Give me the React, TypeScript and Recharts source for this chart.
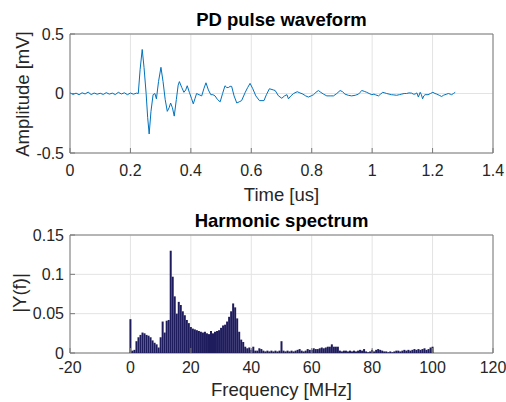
import React from 'react'
import {
  LineChart,
  Line,
  BarChart,
  Bar,
  XAxis,
  YAxis,
  CartesianGrid,
  ReferenceArea,
} from 'recharts'

// PD pulse waveform: sample times [us] and amplitudes [mV]
const pulseTime = [
  0, 0.01, 0.02, 0.03, 0.04, 0.05, 0.06, 0.07, 0.08, 0.09, 0.1, 0.11, 0.12, 0.13, 0.14, 0.15, 0.16,
  0.17, 0.18, 0.19, 0.2, 0.21, 0.22, 0.226, 0.232, 0.239, 0.245, 0.252, 0.257, 0.262, 0.268, 0.275,
  0.281, 0.286, 0.293, 0.301, 0.308, 0.315, 0.322, 0.328, 0.333, 0.339, 0.345, 0.352, 0.358, 0.362,
  0.37, 0.377, 0.383, 0.388, 0.395, 0.402, 0.408, 0.414, 0.419, 0.427, 0.436, 0.443, 0.45, 0.458,
  0.466, 0.473, 0.48, 0.488, 0.497, 0.505, 0.513, 0.519, 0.524, 0.53, 0.535, 0.543, 0.552, 0.56,
  0.568, 0.58, 0.588, 0.596, 0.605, 0.615, 0.627, 0.642, 0.65, 0.66, 0.673, 0.679, 0.69, 0.701,
  0.71, 0.718, 0.723, 0.731, 0.74, 0.752, 0.761, 0.771, 0.78, 0.789, 0.798, 0.806, 0.814, 0.822,
  0.83, 0.839, 0.85, 0.861, 0.872, 0.883, 0.894, 0.902, 0.91, 0.921, 0.932, 0.944, 0.955, 0.96,
  0.966, 0.974, 0.982, 0.99, 0.999, 1.006, 1.012, 1.021, 1.028, 1.035, 1.042, 1.048, 1.056, 1.064,
  1.072, 1.081, 1.09, 1.098, 1.106, 1.114, 1.122, 1.131, 1.136, 1.142, 1.148, 1.153, 1.159, 1.163,
  1.167, 1.171, 1.175, 1.185, 1.193, 1.201, 1.208, 1.214, 1.222, 1.23, 1.236, 1.241, 1.247, 1.252,
  1.258, 1.263, 1.269, 1.275,
]
const pulseAmp = [
  0.005, -0.008, 0.003, -0.01, 0.006, -0.004, 0.012, -0.009, 0.004, -0.006, 0.002, -0.008, 0.007,
  -0.005, 0.003, -0.009, 0.01, -0.004, 0.006, -0.01, 0.004, -0.006, 0.003, 0.0, 0.2, 0.37, 0.22,
  0.0, -0.2, -0.34, -0.15, -0.01, 0.0, -0.045, 0.1, 0.22, 0.1, -0.05, -0.15, -0.12, -0.08, -0.12,
  -0.19, -0.05, 0.07, 0.1, 0.05, 0.01, 0.03, 0.065, 0.01, -0.04, -0.087, -0.04, 0.0, -0.01, -0.02,
  0.04, 0.09, 0.03, -0.01, -0.01, -0.02, -0.05, -0.07, 0.0, 0.065, 0.05, 0.05, 0.06, 0.06, -0.02,
  -0.08, -0.07, -0.06, 0.01, 0.05, 0.085, 0.04, -0.02, -0.06, -0.06, -0.01, 0.04, 0.03, 0.025,
  -0.02, -0.04, -0.02, -0.01, -0.045, -0.02, 0.0, 0.015, 0.005, -0.005, -0.02, -0.03, -0.02, -0.01,
  0.01, 0.025, 0.01, -0.005, -0.02, -0.02, -0.02, 0.0, 0.025, 0.015, -0.005, -0.015, -0.02, -0.015,
  -0.005, 0.01, 0.025, 0.018, 0.01, 0.0, -0.01, -0.005, -0.012, -0.02, -0.005, 0.01, 0.005, 0.0,
  -0.005, -0.01, -0.012, -0.015, -0.01, -0.005, 0.0, 0.0, 0.005, 0.003, -0.005, -0.005, 0.005,
  -0.03, 0.01, -0.01, -0.045, -0.02, -0.01, -0.01, 0.0, 0.01, 0.0, -0.005, -0.015, -0.025, -0.015,
  -0.01, -0.005, 0.0, -0.005, -0.01, 0.0, 0.01,
]

// Harmonic spectrum: one bar per FFT bin, 0..100 MHz
const binStep = 100 / 150
const spectrum = [
  0.043, 0.003, 0.004, 0.015, 0.02, 0.023, 0.026, 0.025, 0.023, 0.022, 0.02, 0.016, 0.013, 0.011,
  0.007, 0.02, 0.04, 0.026, 0.041, 0.042, 0.13, 0.097, 0.072, 0.05, 0.065, 0.061, 0.053, 0.048,
  0.042, 0.038, 0.033, 0.031, 0.03, 0.029, 0.028, 0.027, 0.026, 0.027, 0.025, 0.024, 0.028, 0.025,
  0.027, 0.028, 0.029, 0.032, 0.035, 0.036, 0.04, 0.046, 0.053, 0.063, 0.058, 0.044, 0.027, 0.017,
  0.014, 0.008, 0.006, 0.007, 0.004, 0.008, 0.003, 0.003, 0.006, 0.005, 0.003, 0.002, 0.003, 0.002,
  0.003, 0.002, 0.003, 0.002, 0.003, 0.015, 0.003, 0.002, 0.003, 0.002, 0.003, 0.002, 0.003, 0.004,
  0.005, 0.003, 0.002, 0.003, 0.005, 0.004, 0.004, 0.006, 0.005, 0.005, 0.006, 0.007, 0.006, 0.007,
  0.008, 0.008, 0.011, 0.008, 0.008, 0.008, 0.003, 0.002, 0.003, 0.003, 0.002, 0.003, 0.002, 0.003,
  0.002, 0.003, 0.004, 0.003, 0.005, 0.002, 0.001, 0.002, 0.004, 0.002, 0.004, 0.005, 0.004, 0.003,
  0.002, 0.002, 0.001, 0.002, 0.001, 0.002, 0.003, 0.003, 0.002, 0.003, 0.004, 0.003, 0.004, 0.003,
  0.004, 0.005, 0.004, 0.005, 0.004, 0.005, 0.006, 0.004, 0.005, 0.007, 0.008,
]

const timeTicks = [0, 0.2, 0.4, 0.6, 0.8, 1, 1.2, 1.4]
const ampTicks = [-0.5, 0, 0.5]
const freqTicks = [-20, 0, 20, 40, 60, 80, 100, 120]
const magTicks = [0, 0.05, 0.1, 0.15]

const pulseData = pulseTime.map((t, i) => ({ t, v: pulseAmp[i] }))
const spectrumData = spectrum.map((y, i) => ({ f: i * binStep, y }))

const FONT = '"Liberation Sans", Arial, Helvetica, sans-serif'
const tickStyle = { fontSize: 16, fill: '#262626', fontFamily: FONT }
const boxColor = '#7a7a7a'
const gridColor = '#e3e3e3'

const fmt = (v: number) => String(Number(v.toFixed(2)))

const titleStyle: React.CSSProperties = {
  position: 'absolute',
  left: 70,
  width: 423,
  textAlign: 'center',
  fontFamily: FONT,
  fontWeight: 'bold',
  fontSize: 18.5,
  lineHeight: '20px',
  color: '#000',
}
const xLabelStyle: React.CSSProperties = {
  position: 'absolute',
  left: 70,
  width: 423,
  textAlign: 'center',
  fontFamily: FONT,
  fontSize: 18.5,
  lineHeight: '14px',
  color: '#262626',
}
const yLabelStyle: React.CSSProperties = {
  position: 'absolute',
  transform: 'translate(-50%, -50%) rotate(-90deg)',
  whiteSpace: 'nowrap',
  fontFamily: FONT,
  fontSize: 18.5,
  lineHeight: '20px',
  color: '#262626',
}

export default function App() {
  return (
    <div
      style={{
        position: 'absolute',
        left: 0,
        top: 0,
        width: 506,
        height: 402,
        background: '#fff',
        overflow: 'hidden',
      }}
    >
      <div style={{ ...titleStyle, top: 10 }}>PD pulse waveform</div>
      <div style={{ position: 'absolute', left: 0, top: 0 }}>
        <LineChart width={506} height={200} data={pulseData} margin={{ top: 34, right: 13, bottom: 0, left: 0 }}>
          <CartesianGrid stroke={gridColor} />
          <XAxis
            dataKey="t"
            type="number"
            domain={[0, 1.4]}
            ticks={timeTicks}
            tickFormatter={fmt}
            tick={tickStyle}
            height={47}
            axisLine={false}
            tickLine={{ stroke: boxColor }}
            tickSize={-5}
            tickMargin={17}
          />
          <YAxis
            type="number"
            domain={[-0.5, 0.5]}
            ticks={ampTicks}
            tickFormatter={fmt}
            tick={tickStyle}
            width={70}
            axisLine={false}
            tickLine={{ stroke: boxColor }}
            tickSize={-5}
            tickMargin={11}
          />
          <ReferenceArea x1={0} x2={1.4} y1={-0.5} y2={0.5} fill="none" stroke={boxColor} ifOverflow="visible" />
          <Line
            type="linear"
            dataKey="v"
            stroke="#0072BD"
            strokeWidth={1}
            dot={false}
            isAnimationActive={false}
          />
        </LineChart>
      </div>
      <div style={{ ...xLabelStyle, top: 188 }}>Time [us]</div>
      <div style={{ ...yLabelStyle, left: 22.5, top: 93.5 }}>Amplitude [mV]</div>

      <div style={{ ...titleStyle, top: 211 }}>Harmonic spectrum</div>
      <div style={{ position: 'absolute', left: 0, top: 200 }}>
        <BarChart width={506} height={200} data={spectrumData} margin={{ top: 35, right: 13, bottom: 0, left: 0 }}>
          <CartesianGrid stroke={gridColor} />
          <XAxis
            dataKey="f"
            type="number"
            domain={[-20, 120]}
            ticks={freqTicks}
            tick={tickStyle}
            height={47}
            axisLine={false}
            tickLine={{ stroke: boxColor }}
            tickSize={-5}
            tickMargin={14}
          />
          <YAxis
            type="number"
            domain={[0, 0.15]}
            ticks={magTicks}
            tickFormatter={fmt}
            tick={tickStyle}
            width={70}
            axisLine={false}
            tickLine={{ stroke: boxColor }}
            tickSize={-5}
            tickMargin={11}
          />
          <ReferenceArea x1={-20} x2={120} y1={0} y2={0.15} fill="none" stroke={boxColor} ifOverflow="visible" />
          <Bar dataKey="y" fill="#1f1c5e" barSize={2} isAnimationActive={false} />
        </BarChart>
      </div>
      <div style={{ ...xLabelStyle, top: 383 }}>Frequency [MHz]</div>
      <div style={{ ...yLabelStyle, left: 20, top: 292.5 }}>|Y(f)|</div>
    </div>
  )
}
